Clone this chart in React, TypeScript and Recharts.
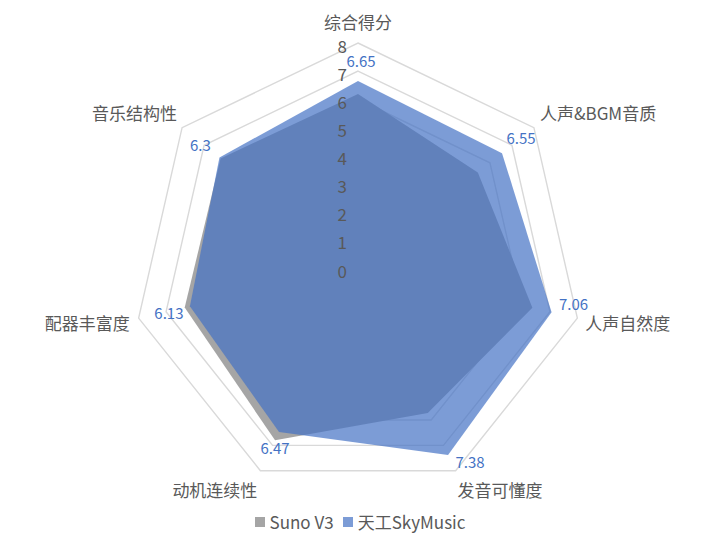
import {
  RadarChart,
  Radar,
  PolarGrid,
  PolarAngleAxis,
  PolarRadiusAxis,
  Legend,
} from 'recharts';

const categories = [
  '综合得分',
  '人声&BGM音质',
  '人声自然度',
  '发音可懂度',
  '动机连续性',
  '配器丰富度',
  '音乐结构性',
];
const sunoV3 = [6.19, 5.45, 6.36, 5.72, 6.8, 6.32, 6.25];
const skyMusic = [6.65, 6.55, 7.06, 7.38, 6.47, 6.13, 6.3];
const radiusTicks = [0, 1, 2, 3, 4, 5, 6, 7, 8];

const data = categories.map((name, i) => ({
  name,
  suno: sunoV3[i],
  sky: skyMusic[i],
}));

const CX = 358;
const CY = 268;
const R = 225;
const FONT = '"Noto Sans CJK SC", "Noto Sans", sans-serif';
const TEXT = '#595959';
const GRAY = '#a5a5a5';
const BLUE = '#4472c4';
const BLUE_LIGHT = '#7c9cd6';

// label nudges per axis, clockwise from the top
const TICK_OFFSETS = [
  { dx: 0, dy: -22, anchor: 'middle' },
  { dx: 6, dy: -15, anchor: 'start' },
  { dx: 8, dy: 4, anchor: 'start' },
  { dx: 2, dy: 19, anchor: 'start' },
  { dx: -3, dy: 19, anchor: 'end' },
  { dx: -9, dy: 4, anchor: 'end' },
  { dx: -5, dy: -15, anchor: 'end' },
];
const LABEL_OFFSETS = [
  { dx: 3, dy: -20 },
  { dx: 19, dy: -16 },
  { dx: 22, dy: -9 },
  { dx: 22, dy: 6 },
  { dx: -4, dy: 16 },
  { dx: -21, dy: 6 },
  { dx: -19, dy: -13 },
];

function AngleTick(props: any) {
  const { payload, index } = props;
  const ang = (payload.coordinate * Math.PI) / 180;
  const x = CX + R * Math.cos(ang);
  const y = CY - R * Math.sin(ang);
  const o = TICK_OFFSETS[index] ?? { dx: 0, dy: 0, anchor: 'middle' };
  return (
    <text
      x={x + o.dx}
      y={y + o.dy}
      textAnchor={o.anchor}
      dominantBaseline="central"
      fill={TEXT}
      fontSize={17}
      fontFamily={FONT}
    >
      {payload.value}
    </text>
  );
}

function RadiusTick(props: any) {
  const { x, y, payload } = props;
  return (
    <text
      x={x - 11}
      y={y + 2}
      textAnchor="end"
      dominantBaseline="central"
      fill={TEXT}
      fontSize={17}
      fontFamily={FONT}
    >
      {payload.value}
    </text>
  );
}

function ValueLabel(props: any) {
  const { cx, cy, index, payload } = props;
  const o = LABEL_OFFSETS[index] ?? { dx: 0, dy: 0 };
  return (
    <text
      key={`lbl-${index}`}
      x={cx + o.dx}
      y={cy + o.dy}
      textAnchor="middle"
      dominantBaseline="central"
      fill={BLUE}
      fontSize={15}
      fontFamily={FONT}
    >
      {payload?.value ?? skyMusic[index]}
    </text>
  );
}

function LegendContent() {
  const items = [
    { label: 'Suno V3', color: GRAY },
    { label: '天工SkyMusic', color: BLUE_LIGHT },
  ];
  return (
    <div
      style={{
        display: 'flex',
        justifyContent: 'center',
        gap: 9,
        fontFamily: FONT,
        fontSize: 17,
        color: TEXT,
      }}
    >
      {items.map((it) => (
        <span key={it.label} style={{ display: 'flex', alignItems: 'center' }}>
          <span
            style={{
              width: 10,
              height: 10,
              background: it.color,
              marginRight: 5,
              display: 'inline-block',
            }}
          />
          {it.label}
        </span>
      ))}
    </div>
  );
}

export default function App() {
  return (
    <div style={{ position: 'absolute', left: 0, top: 0, width: 720, height: 544, background: '#fff' }}>
      <RadarChart
        width={720}
        height={544}
        data={data}
        cx={CX}
        cy={CY}
        outerRadius={R}
        startAngle={90}
        endAngle={-270}
        margin={{ top: 0, right: 0, bottom: 0, left: 0 }}
      >
        <PolarGrid gridType="polygon" radialLines={false} stroke="#d9d9d9" strokeWidth={1.4} />
        <Radar
          name="Suno V3"
          dataKey="suno"
          stroke="none"
          fill={GRAY}
          fillOpacity={1}
          isAnimationActive={false}
        />
        <Radar
          name="天工SkyMusic"
          dataKey="sky"
          stroke="none"
          fill={BLUE}
          fillOpacity={0.7}
          dot={ValueLabel}
          isAnimationActive={false}
        />
        <PolarAngleAxis dataKey="name" tick={AngleTick} axisLine={false} tickLine={false} />
        <PolarRadiusAxis
          angle={90}
          domain={[0, 8]}
          ticks={radiusTicks as any}
          tickCount={9}
          axisLine={false}
          tickLine={false}
          tick={RadiusTick}
        />
        <Legend
          content={LegendContent}
          wrapperStyle={{ position: 'absolute', top: 509, left: 0, width: 720 }}
        />
      </RadarChart>
    </div>
  );
}
